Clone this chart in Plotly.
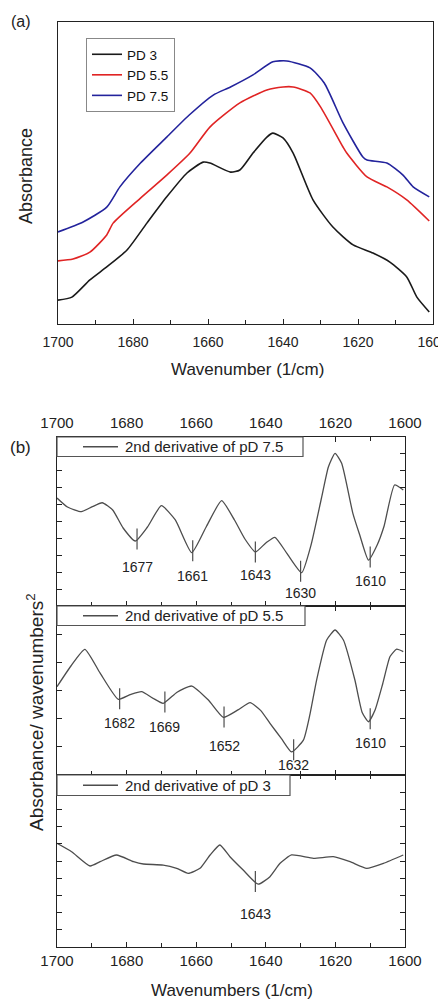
import numpy as np
import plotly.graph_objects as go

FONT = "Liberation Sans, Arial, sans-serif"
W, H = 438, 999

# ---------------- (a) FTIR absorbance spectra ----------------
wn_pd3 = [1700, 1696.3, 1691.5, 1687, 1681.6, 1676.3, 1671, 1665.6, 1661.3, 1659.5, 1654,
          1651.5, 1648, 1644.3, 1642.7, 1640, 1637.3, 1632, 1626.7, 1621.3, 1616, 1611.5,
          1607, 1604.3, 1601]
abs_pd3 = [0.079, 0.089, 0.146, 0.189, 0.245, 0.334, 0.421, 0.500, 0.536, 0.533, 0.503,
           0.510, 0.566, 0.619, 0.632, 0.616, 0.566, 0.411, 0.321, 0.262, 0.235, 0.205,
           0.156, 0.089, 0.040]

wn_pd55 = [1700, 1696, 1691.5, 1687, 1685.3, 1678, 1671, 1664.8, 1659.5, 1651.5, 1644.3,
           1640, 1637.3, 1632.8, 1630, 1624, 1623, 1617.6, 1612.3, 1607, 1601]
abs_pd55 = [0.209, 0.215, 0.238, 0.295, 0.334, 0.417, 0.493, 0.566, 0.652, 0.732, 0.775,
            0.785, 0.785, 0.765, 0.719, 0.586, 0.566, 0.487, 0.454, 0.411, 0.341]

wn_pd75 = [1700, 1693.3, 1687, 1683.5, 1678, 1671, 1665, 1658.6, 1654, 1648, 1642.7, 1639,
           1632.8, 1629, 1624, 1618.7, 1617.6, 1612.3, 1608, 1605.3, 1601]
abs_pd75 = [0.305, 0.338, 0.387, 0.454, 0.533, 0.619, 0.692, 0.758, 0.785, 0.825, 0.868,
            0.871, 0.848, 0.798, 0.666, 0.553, 0.543, 0.533, 0.493, 0.454, 0.421]

names_a = ["PD 3", "PD 5.5", "PD 7.5"]
colors_a = ["#1a1a1a", "#e02424", "#23239c"]

# ---------------- (b) second-derivative spectra ----------------
wn_d75 = [1700, 1697, 1693, 1690, 1687, 1684, 1681, 1677.5, 1674, 1670, 1666, 1661.3, 1657,
          1652.7, 1649, 1646, 1643, 1640, 1637.4, 1634, 1629.7, 1627, 1624, 1622, 1620.1,
          1618.2, 1615, 1613, 1610.5, 1608, 1606, 1603, 1600.5]
d2_d75 = [0.278, 0.172, 0.116, 0.172, 0.222, 0.136, -0.077, -0.231, -0.065, 0.187, 0.018,
          -0.369, -0.053, 0.246, 0.018, -0.207, -0.361, -0.254, -0.187, -0.373, -0.606,
          -0.278, 0.278, 0.649, 0.807, 0.689, 0.100, -0.160, -0.456, -0.278, -0.053, 0.432,
          0.373]

wn_d55 = [1700, 1696, 1692, 1687.6, 1682.4, 1679, 1675.7, 1672.5, 1669.5, 1665.5, 1661.3,
          1656.5, 1652.2, 1648, 1644.5, 1641.5, 1638.8, 1635.5, 1632.6, 1629.2, 1627.3,
          1625.4, 1622.5, 1620.1, 1617.7, 1614.4, 1612.3, 1610.5, 1608.6, 1606.4, 1604.3,
          1602.4, 1600.5]
d2_d55 = [0.045, 0.290, 0.487, 0.205, -0.104, -0.050, -0.014, -0.090, -0.152, -0.020,
          0.053, -0.113, -0.318, -0.230, -0.144, -0.235, -0.388, -0.570, -0.727, -0.588,
          -0.280, 0.124, 0.598, 0.716, 0.598, 0.124, -0.260, -0.370, -0.231, 0.080, 0.402,
          0.489, 0.460]

wn_d3 = [1700, 1695.8, 1690.5, 1687.6, 1682.9, 1678, 1675.2, 1669.5, 1665.6, 1662.3, 1658.9,
         1656, 1653.2, 1650.3, 1646.5, 1642.2, 1638.8, 1635.9, 1632.6, 1626.3, 1620.6, 1615.8,
         1611, 1606.2, 1600.5]
d2_d3 = [0.206, 0.108, -0.058, -0.008, 0.070, -0.008, -0.035, -0.047, -0.085, -0.143,
         -0.085, 0.070, 0.186, 0.050, -0.105, -0.270, -0.182, -0.027, 0.070, 0.031, 0.050,
         -0.008, -0.085, -0.027, 0.070]

names_b = ["2nd derivative of pD 7.5", "2nd derivative of pD 5.5", "2nd derivative of pD 3"]

# band assignments marked on each derivative trace
peaks_d75 = [1677, 1661, 1643, 1630, 1610]
peaks_d55 = [1682, 1669, 1652, 1632, 1610]
peaks_d3 = [1643]

D2_COLOR = "#4d4d4d"


def px_x(v):
    return v / W


def px_y(v):
    return 1 - v / H


fig = go.Figure()

# ----- panel (a)
for wn, ab, nm, col in zip([wn_pd3, wn_pd55, wn_pd75], [abs_pd3, abs_pd55, abs_pd75],
                           names_a, colors_a):
    fig.add_trace(go.Scatter(
        x=wn, y=ab, name=nm, mode="lines",
        line=dict(color=col, width=1.6, shape="spline", smoothing=0.6),
        xaxis="x", yaxis="y"))

# ----- panel (b): one stacked subplot per pD, each with its own key box
panels_b = [
    # data, bands, axes, label offsets, key box (top, bottom, right) in px
    (wn_d75, d2_d75, peaks_d75, "x2", "y2", [-18, -15, -13, -12, -14], (437, 456.5, 303)),
    (wn_d55, d2_d55, peaks_d55, "x3", "y3", [-14, -15, -19, -5, -14], (606, 625.5, 305)),
    (wn_d3, d2_d3, peaks_d3, "x4", "y4", [-22], (775, 795.5, 290)),
]
annotations = []
shapes = []
for (wn, d2, pk, xa, ya, shifts, box), nm in zip(panels_b, names_b):
    fig.add_trace(go.Scatter(
        x=wn, y=d2, name=nm, mode="lines", showlegend=False,
        line=dict(color=D2_COLOR, width=1.3, shape="spline", smoothing=0.5),
        xaxis=xa, yaxis=ya))
    # value of the trace at each marked band
    pk_y = np.interp(pk, wn[::-1], d2[::-1])
    fig.add_trace(go.Scatter(
        x=pk, y=pk_y, mode="markers", showlegend=False, hoverinfo="skip",
        marker=dict(symbol="line-ns", size=15, line=dict(color=D2_COLOR, width=1.2)),
        xaxis=xa, yaxis=ya))
    for p, yv, s in zip(pk, pk_y, shifts):
        annotations.append(dict(
            x=p, y=yv, xref=xa, yref=ya, text=str(p), showarrow=False,
            yshift=s, xanchor="center", yanchor="top",
            font=dict(family=FONT, size=14, color="#222")))
    top, bottom, right = box
    mid = (top + bottom) / 2
    shapes.append(dict(type="rect", xref="paper", yref="paper", layer="above",
                       x0=px_x(57), x1=px_x(right), y0=px_y(bottom), y1=px_y(top),
                       fillcolor="white", line=dict(color="#555", width=1.2)))
    shapes.append(dict(type="line", xref="paper", yref="paper", layer="above",
                       x0=px_x(83), x1=px_x(118), y0=px_y(mid), y1=px_y(mid),
                       line=dict(color=D2_COLOR, width=1.3)))
    annotations.append(dict(text=nm, x=px_x(123), y=px_y(mid), xref="paper", yref="paper",
                            showarrow=False, xanchor="left", yanchor="middle",
                            font=dict(family=FONT, size=15, color="#222")))

axis_common = dict(
    range=[1700, 1600], dtick=20, tick0=1600, ticks="inside", ticklen=5, tickwidth=1,
    tickcolor="#222", showline=True, linecolor="#222", linewidth=1.2, showgrid=False,
    zeroline=False, automargin=False, ticklabeloverflow="allow",
    tickfont=dict(family=FONT, size=14, color="#222"),
    minor=dict(dtick=10, tick0=1600, ticks="inside", ticklen=4, tickcolor="#222"),
)
dom_b = [px_x(57), px_x(405)]

fig.update_layout(
    width=W, height=H, margin=dict(l=0, r=0, t=0, b=0, autoexpand=False),
    paper_bgcolor="white", plot_bgcolor="white",
    font=dict(family=FONT, color="#222"),
    xaxis=dict(axis_common, domain=[px_x(58), px_x(433)], anchor="y", mirror=True,
               ticklabelstandoff=5),
    yaxis=dict(domain=[px_y(324), px_y(22)], range=[0, 1], anchor="x", showline=True,
               linecolor="#222", linewidth=1.2, mirror=True, ticks="", showticklabels=False,
               showgrid=False, zeroline=False, automargin=False),
    xaxis2=dict(axis_common, domain=dom_b, anchor="y2", side="top", mirror="ticks",
                tickfont=dict(family=FONT, size=15, color="#222"), ticklabelstandoff=2),
    xaxis3=dict(axis_common, domain=dom_b, anchor="y3", mirror="ticks",
                showticklabels=False, matches="x2"),
    xaxis4=dict(axis_common, domain=dom_b, anchor="y4", mirror="ticks",
                tickfont=dict(family=FONT, size=15, color="#222"), matches="x2",
                ticklabelstandoff=0),
    showlegend=True,
    legend=dict(x=px_x(86), y=px_y(38), xanchor="left", yanchor="top",
                bgcolor="white", bordercolor="#888", borderwidth=1,
                font=dict(family=FONT, size=13.5, color="#111"), tracegroupgap=0),
)

ycommon_b = dict(range=[-1, 1], tick0=-1, ticks="inside", ticklen=5, tickcolor="#222",
                 showline=True, linecolor="#222", linewidth=1.2, mirror="ticks",
                 showticklabels=False, showgrid=False, zeroline=False, automargin=False)
fig.update_layout(
    yaxis2=dict(ycommon_b, domain=[px_y(606), px_y(437)], anchor="x2", dtick=0.2),
    yaxis3=dict(ycommon_b, domain=[px_y(775), px_y(606)], anchor="x3", dtick=1 / 3),
    yaxis4=dict(ycommon_b, domain=[px_y(947), px_y(775)], anchor="x4", dtick=0.2),
)

# axis titles and panel letters
title_font = dict(family=FONT, size=18, color="#222")
extra = [
    dict(text="Wavenumber (1/cm)", x=px_x(247), y=px_y(369),
         font=dict(family=FONT, size=17, color="#222")),
    dict(text="Absorbance", x=px_x(26), y=px_y(176), textangle=-90, font=title_font),
    dict(text="Wavenumbers (1/cm)", x=px_x(232), y=px_y(990),
         font=dict(family=FONT, size=17, color="#222")),
    dict(text="Absorbance/ wavenumbers<sup>2</sup>", x=px_x(35), y=px_y(712),
         textangle=-90, font=dict(family=FONT, size=19, color="#222")),
    dict(text="(a)", x=px_x(21), y=px_y(22), font=dict(family=FONT, size=16, color="#222")),
    dict(text="(b)", x=px_x(20), y=px_y(447), font=dict(family=FONT, size=17, color="#222")),
]
for a in extra:
    a.update(xref="paper", yref="paper", showarrow=False, xanchor="center", yanchor="middle")
fig.update_layout(annotations=annotations + extra, shapes=shapes)

fig.write_html("out.html")
